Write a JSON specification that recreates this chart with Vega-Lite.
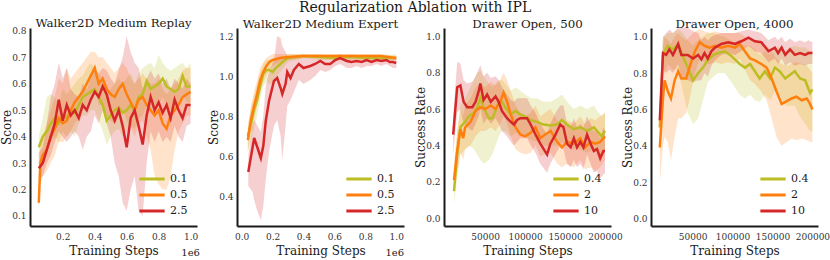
{
  "$schema": "https://vega.github.io/schema/vega-lite/v6.json",
  "padding": {"left": 0, "top": 1, "right": 0, "bottom": 0},
  "background": "white",
  "title": {"text": "Regularization Ablation with IPL", "font": "DejaVu Serif", "fontSize": 14, "fontWeight": "normal", "color": "#1a1a1a", "anchor": "middle", "offset": 3},
  "config": {
    "view": {"stroke": null},
    "axis": {"domainColor": "#1a1a1a", "domainWidth": 2, "ticks": false, "grid": false, "labelOverlap": false, "labelFont": "DejaVu Serif", "labelFontSize": 9, "labelColor": "#333333", "titleFont": "DejaVu Serif", "titleFontSize": 12, "titleFontWeight": "normal", "titleColor": "#1a1a1a"},
    "axisY": {"titlePadding": -2, "labelPadding": 4},
    "axisX": {"titlePadding": 4, "labelPadding": 6},
    "title": {"font": "DejaVu Serif", "fontSize": 11.8, "fontWeight": "normal", "color": "#1a1a1a", "offset": -3},
    "legend": {"orient": "bottom-right", "offset": 9, "padding": 0, "labelFont": "DejaVu Serif", "labelFontSize": 11, "labelColor": "#1a1a1a", "symbolType": "M-2,0H2", "symbolSize": 160, "symbolStrokeWidth": 3, "symbolOpacity": 1, "labelOffset": 10, "rowPadding": 2}
  },
  "datasets": {
    "p1": [
      {"s":"0.1","x":0.05,"m":0.36,"lo":0.28,"hi":0.40},{"s":"0.1","x":0.075,"m":0.40,"lo":0.30,"hi":0.47},{"s":"0.1","x":0.1,"m":0.42,"lo":0.35,"hi":0.55},{"s":"0.1","x":0.125,"m":0.45,"lo":0.38,"hi":0.56},{"s":"0.1","x":0.15,"m":0.47,"lo":0.40,"hi":0.55},{"s":"0.1","x":0.175,"m":0.45,"lo":0.38,"hi":0.52},{"s":"0.1","x":0.2,"m":0.48,"lo":0.42,"hi":0.58},{"s":"0.1","x":0.225,"m":0.47,"lo":0.40,"hi":0.56},{"s":"0.1","x":0.25,"m":0.50,"lo":0.42,"hi":0.58},{"s":"0.1","x":0.275,"m":0.49,"lo":0.40,"hi":0.60},{"s":"0.1","x":0.3,"m":0.52,"lo":0.45,"hi":0.62},{"s":"0.1","x":0.325,"m":0.55,"lo":0.48,"hi":0.63},{"s":"0.1","x":0.35,"m":0.56,"lo":0.48,"hi":0.66},{"s":"0.1","x":0.375,"m":0.57,"lo":0.50,"hi":0.68},{"s":"0.1","x":0.4,"m":0.58,"lo":0.50,"hi":0.66},{"s":"0.1","x":0.425,"m":0.55,"lo":0.46,"hi":0.64},{"s":"0.1","x":0.45,"m":0.52,"lo":0.42,"hi":0.62},{"s":"0.1","x":0.475,"m":0.46,"lo":0.37,"hi":0.56},{"s":"0.1","x":0.5,"m":0.48,"lo":0.40,"hi":0.58},{"s":"0.1","x":0.525,"m":0.50,"lo":0.42,"hi":0.60},{"s":"0.1","x":0.55,"m":0.51,"lo":0.43,"hi":0.62},{"s":"0.1","x":0.575,"m":0.49,"lo":0.40,"hi":0.60},{"s":"0.1","x":0.6,"m":0.50,"lo":0.42,"hi":0.62},{"s":"0.1","x":0.625,"m":0.52,"lo":0.44,"hi":0.64},{"s":"0.1","x":0.65,"m":0.50,"lo":0.43,"hi":0.60},{"s":"0.1","x":0.675,"m":0.55,"lo":0.47,"hi":0.64},{"s":"0.1","x":0.7,"m":0.56,"lo":0.48,"hi":0.66},{"s":"0.1","x":0.725,"m":0.61,"lo":0.52,"hi":0.67},{"s":"0.1","x":0.75,"m":0.58,"lo":0.50,"hi":0.68},{"s":"0.1","x":0.775,"m":0.59,"lo":0.52,"hi":0.66},{"s":"0.1","x":0.8,"m":0.60,"lo":0.52,"hi":0.71},{"s":"0.1","x":0.825,"m":0.62,"lo":0.55,"hi":0.68},{"s":"0.1","x":0.85,"m":0.59,"lo":0.52,"hi":0.66},{"s":"0.1","x":0.875,"m":0.58,"lo":0.50,"hi":0.65},{"s":"0.1","x":0.9,"m":0.57,"lo":0.50,"hi":0.66},{"s":"0.1","x":0.925,"m":0.58,"lo":0.52,"hi":0.67},{"s":"0.1","x":0.95,"m":0.63,"lo":0.56,"hi":0.68},{"s":"0.1","x":0.975,"m":0.59,"lo":0.53,"hi":0.66},{"s":"0.1","x":1.0,"m":0.59,"lo":0.53,"hi":0.68},
      {"s":"0.5","x":0.05,"m":0.15,"lo":0.12,"hi":0.20},{"s":"0.5","x":0.06,"m":0.30,"lo":0.22,"hi":0.36},{"s":"0.5","x":0.075,"m":0.33,"lo":0.25,"hi":0.40},{"s":"0.5","x":0.1,"m":0.35,"lo":0.27,"hi":0.45},{"s":"0.5","x":0.125,"m":0.40,"lo":0.30,"hi":0.50},{"s":"0.5","x":0.15,"m":0.43,"lo":0.33,"hi":0.55},{"s":"0.5","x":0.175,"m":0.47,"lo":0.38,"hi":0.62},{"s":"0.5","x":0.2,"m":0.45,"lo":0.38,"hi":0.60},{"s":"0.5","x":0.225,"m":0.46,"lo":0.40,"hi":0.66},{"s":"0.5","x":0.25,"m":0.50,"lo":0.42,"hi":0.62},{"s":"0.5","x":0.275,"m":0.53,"lo":0.45,"hi":0.64},{"s":"0.5","x":0.3,"m":0.55,"lo":0.47,"hi":0.66},{"s":"0.5","x":0.325,"m":0.57,"lo":0.50,"hi":0.68},{"s":"0.5","x":0.35,"m":0.60,"lo":0.52,"hi":0.70},{"s":"0.5","x":0.375,"m":0.63,"lo":0.55,"hi":0.72},{"s":"0.5","x":0.4,"m":0.66,"lo":0.58,"hi":0.72},{"s":"0.5","x":0.425,"m":0.60,"lo":0.52,"hi":0.70},{"s":"0.5","x":0.45,"m":0.62,"lo":0.52,"hi":0.70},{"s":"0.5","x":0.475,"m":0.58,"lo":0.48,"hi":0.68},{"s":"0.5","x":0.5,"m":0.56,"lo":0.46,"hi":0.66},{"s":"0.5","x":0.525,"m":0.55,"lo":0.45,"hi":0.64},{"s":"0.5","x":0.55,"m":0.58,"lo":0.48,"hi":0.66},{"s":"0.5","x":0.575,"m":0.60,"lo":0.50,"hi":0.68},{"s":"0.5","x":0.6,"m":0.56,"lo":0.46,"hi":0.66},{"s":"0.5","x":0.625,"m":0.53,"lo":0.44,"hi":0.62},{"s":"0.5","x":0.65,"m":0.50,"lo":0.40,"hi":0.60},{"s":"0.5","x":0.675,"m":0.54,"lo":0.45,"hi":0.62},{"s":"0.5","x":0.7,"m":0.55,"lo":0.46,"hi":0.64},{"s":"0.5","x":0.725,"m":0.52,"lo":0.40,"hi":0.62},{"s":"0.5","x":0.75,"m":0.50,"lo":0.35,"hi":0.60},{"s":"0.5","x":0.775,"m":0.48,"lo":0.25,"hi":0.60},{"s":"0.5","x":0.8,"m":0.50,"lo":0.22,"hi":0.62},{"s":"0.5","x":0.825,"m":0.45,"lo":0.20,"hi":0.58},{"s":"0.5","x":0.85,"m":0.43,"lo":0.20,"hi":0.56},{"s":"0.5","x":0.875,"m":0.48,"lo":0.25,"hi":0.58},{"s":"0.5","x":0.9,"m":0.50,"lo":0.35,"hi":0.60},{"s":"0.5","x":0.925,"m":0.52,"lo":0.42,"hi":0.62},{"s":"0.5","x":0.95,"m":0.55,"lo":0.45,"hi":0.65},{"s":"0.5","x":0.975,"m":0.56,"lo":0.48,"hi":0.66},{"s":"0.5","x":1.0,"m":0.57,"lo":0.48,"hi":0.66},
      {"s":"2.5","x":0.05,"m":0.28,"lo":0.24,"hi":0.34},{"s":"2.5","x":0.075,"m":0.30,"lo":0.25,"hi":0.36},{"s":"2.5","x":0.1,"m":0.35,"lo":0.30,"hi":0.45},{"s":"2.5","x":0.125,"m":0.40,"lo":0.33,"hi":0.55},{"s":"2.5","x":0.15,"m":0.45,"lo":0.38,"hi":0.60},{"s":"2.5","x":0.175,"m":0.54,"lo":0.42,"hi":0.68},{"s":"2.5","x":0.2,"m":0.46,"lo":0.40,"hi":0.62},{"s":"2.5","x":0.225,"m":0.52,"lo":0.38,"hi":0.66},{"s":"2.5","x":0.25,"m":0.48,"lo":0.40,"hi":0.58},{"s":"2.5","x":0.275,"m":0.50,"lo":0.42,"hi":0.56},{"s":"2.5","x":0.3,"m":0.47,"lo":0.40,"hi":0.55},{"s":"2.5","x":0.325,"m":0.52,"lo":0.35,"hi":0.60},{"s":"2.5","x":0.35,"m":0.50,"lo":0.40,"hi":0.58},{"s":"2.5","x":0.375,"m":0.54,"lo":0.42,"hi":0.62},{"s":"2.5","x":0.4,"m":0.57,"lo":0.48,"hi":0.65},{"s":"2.5","x":0.425,"m":0.55,"lo":0.45,"hi":0.64},{"s":"2.5","x":0.45,"m":0.59,"lo":0.50,"hi":0.66},{"s":"2.5","x":0.475,"m":0.56,"lo":0.45,"hi":0.65},{"s":"2.5","x":0.5,"m":0.50,"lo":0.40,"hi":0.62},{"s":"2.5","x":0.525,"m":0.46,"lo":0.30,"hi":0.60},{"s":"2.5","x":0.55,"m":0.50,"lo":0.25,"hi":0.65},{"s":"2.5","x":0.575,"m":0.44,"lo":0.15,"hi":0.70},{"s":"2.5","x":0.6,"m":0.36,"lo":0.12,"hi":0.78},{"s":"2.5","x":0.625,"m":0.47,"lo":0.20,"hi":0.72},{"s":"2.5","x":0.65,"m":0.50,"lo":0.25,"hi":0.68},{"s":"2.5","x":0.675,"m":0.44,"lo":0.12,"hi":0.66},{"s":"2.5","x":0.7,"m":0.37,"lo":0.10,"hi":0.58},{"s":"2.5","x":0.725,"m":0.48,"lo":0.30,"hi":0.62},{"s":"2.5","x":0.75,"m":0.55,"lo":0.42,"hi":0.65},{"s":"2.5","x":0.775,"m":0.50,"lo":0.38,"hi":0.62},{"s":"2.5","x":0.8,"m":0.53,"lo":0.42,"hi":0.64},{"s":"2.5","x":0.825,"m":0.49,"lo":0.38,"hi":0.60},{"s":"2.5","x":0.85,"m":0.52,"lo":0.40,"hi":0.62},{"s":"2.5","x":0.875,"m":0.47,"lo":0.38,"hi":0.58},{"s":"2.5","x":0.9,"m":0.54,"lo":0.44,"hi":0.62},{"s":"2.5","x":0.925,"m":0.50,"lo":0.40,"hi":0.60},{"s":"2.5","x":0.95,"m":0.47,"lo":0.38,"hi":0.58},{"s":"2.5","x":0.975,"m":0.52,"lo":0.44,"hi":0.62},{"s":"2.5","x":1.0,"m":0.52,"lo":0.45,"hi":0.60}
    ],
    "p2": [
      {"s":"0.1","x":0.04,"m":0.70,"lo":0.62,"hi":0.76},{"s":"0.1","x":0.06,"m":0.76,"lo":0.68,"hi":0.84},{"s":"0.1","x":0.08,"m":0.83,"lo":0.74,"hi":0.90},{"s":"0.1","x":0.1,"m":0.88,"lo":0.80,"hi":0.96},{"s":"0.1","x":0.12,"m":0.95,"lo":0.88,"hi":1.02},{"s":"0.1","x":0.14,"m":1.01,"lo":0.95,"hi":1.06},{"s":"0.1","x":0.16,"m":1.03,"lo":0.97,"hi":1.08},{"s":"0.1","x":0.18,"m":1.03,"lo":0.96,"hi":1.08},{"s":"0.1","x":0.2,"m":1.02,"lo":0.96,"hi":1.08},{"s":"0.1","x":0.22,"m":1.04,"lo":0.99,"hi":1.09},{"s":"0.1","x":0.25,"m":1.06,"lo":1.02,"hi":1.10},{"s":"0.1","x":0.28,"m":1.08,"lo":1.05,"hi":1.10},{"s":"0.1","x":0.3,"m":1.09,"lo":1.07,"hi":1.11},{"s":"0.1","x":0.35,"m":1.095,"lo":1.08,"hi":1.11},{"s":"0.1","x":0.4,"m":1.10,"lo":1.09,"hi":1.11},{"s":"0.1","x":0.5,"m":1.095,"lo":1.08,"hi":1.11},{"s":"0.1","x":0.6,"m":1.09,"lo":1.08,"hi":1.10},{"s":"0.1","x":0.7,"m":1.095,"lo":1.08,"hi":1.11},{"s":"0.1","x":0.8,"m":1.09,"lo":1.08,"hi":1.10},{"s":"0.1","x":0.9,"m":1.09,"lo":1.08,"hi":1.10},{"s":"0.1","x":1.0,"m":1.09,"lo":1.08,"hi":1.11},
      {"s":"0.5","x":0.04,"m":0.68,"lo":0.62,"hi":0.74},{"s":"0.5","x":0.06,"m":0.78,"lo":0.70,"hi":0.85},{"s":"0.5","x":0.08,"m":0.85,"lo":0.78,"hi":0.92},{"s":"0.5","x":0.1,"m":0.91,"lo":0.85,"hi":0.98},{"s":"0.5","x":0.12,"m":0.98,"lo":0.92,"hi":1.04},{"s":"0.5","x":0.14,"m":1.02,"lo":0.97,"hi":1.07},{"s":"0.5","x":0.16,"m":1.05,"lo":1.00,"hi":1.09},{"s":"0.5","x":0.18,"m":1.07,"lo":1.03,"hi":1.10},{"s":"0.5","x":0.2,"m":1.08,"lo":1.05,"hi":1.11},{"s":"0.5","x":0.25,"m":1.09,"lo":1.07,"hi":1.11},{"s":"0.5","x":0.3,"m":1.095,"lo":1.08,"hi":1.11},{"s":"0.5","x":0.4,"m":1.10,"lo":1.09,"hi":1.11},{"s":"0.5","x":0.5,"m":1.10,"lo":1.09,"hi":1.11},{"s":"0.5","x":0.6,"m":1.10,"lo":1.09,"hi":1.11},{"s":"0.5","x":0.7,"m":1.10,"lo":1.09,"hi":1.11},{"s":"0.5","x":0.8,"m":1.10,"lo":1.09,"hi":1.11},{"s":"0.5","x":0.9,"m":1.10,"lo":1.09,"hi":1.11},{"s":"0.5","x":1.0,"m":1.09,"lo":1.08,"hi":1.10},
      {"s":"2.5","x":0.043,"m":0.52,"lo":0.45,"hi":0.60},{"s":"2.5","x":0.07,"m":0.64,"lo":0.42,"hi":0.75},{"s":"2.5","x":0.081,"m":0.69,"lo":0.38,"hi":0.78},{"s":"2.5","x":0.103,"m":0.64,"lo":0.32,"hi":0.75},{"s":"2.5","x":0.124,"m":0.59,"lo":0.28,"hi":0.72},{"s":"2.5","x":0.14,"m":0.65,"lo":0.35,"hi":0.80},{"s":"2.5","x":0.156,"m":0.775,"lo":0.48,"hi":0.95},{"s":"2.5","x":0.177,"m":0.875,"lo":0.62,"hi":1.02},{"s":"2.5","x":0.209,"m":0.975,"lo":0.75,"hi":1.08},{"s":"2.5","x":0.23,"m":0.99,"lo":0.78,"hi":1.20},{"s":"2.5","x":0.252,"m":0.94,"lo":0.70,"hi":1.19},{"s":"2.5","x":0.263,"m":0.91,"lo":0.58,"hi":1.15},{"s":"2.5","x":0.284,"m":0.96,"lo":0.75,"hi":1.12},{"s":"2.5","x":0.295,"m":1.02,"lo":0.85,"hi":1.10},{"s":"2.5","x":0.316,"m":0.99,"lo":0.88,"hi":1.10},{"s":"2.5","x":0.338,"m":1.03,"lo":0.92,"hi":1.10},{"s":"2.5","x":0.37,"m":1.06,"lo":0.98,"hi":1.10},{"s":"2.5","x":0.4,"m":1.04,"lo":0.96,"hi":1.10},{"s":"2.5","x":0.444,"m":1.05,"lo":0.98,"hi":1.10},{"s":"2.5","x":0.475,"m":1.06,"lo":1.00,"hi":1.10},{"s":"2.5","x":0.509,"m":1.075,"lo":1.03,"hi":1.10},{"s":"2.5","x":0.54,"m":1.06,"lo":1.02,"hi":1.10},{"s":"2.5","x":0.573,"m":1.06,"lo":1.03,"hi":1.09},{"s":"2.5","x":0.605,"m":1.08,"lo":1.05,"hi":1.10},{"s":"2.5","x":0.637,"m":1.09,"lo":1.06,"hi":1.11},{"s":"2.5","x":0.68,"m":1.075,"lo":1.04,"hi":1.10},{"s":"2.5","x":0.71,"m":1.07,"lo":1.04,"hi":1.10},{"s":"2.5","x":0.744,"m":1.075,"lo":1.05,"hi":1.10},{"s":"2.5","x":0.776,"m":1.07,"lo":1.04,"hi":1.10},{"s":"2.5","x":0.808,"m":1.08,"lo":1.05,"hi":1.10},{"s":"2.5","x":0.84,"m":1.07,"lo":1.05,"hi":1.09},{"s":"2.5","x":0.872,"m":1.08,"lo":1.06,"hi":1.10},{"s":"2.5","x":0.904,"m":1.075,"lo":1.05,"hi":1.10},{"s":"2.5","x":0.936,"m":1.08,"lo":1.06,"hi":1.10},{"s":"2.5","x":0.958,"m":1.07,"lo":1.05,"hi":1.09},{"s":"2.5","x":0.979,"m":1.07,"lo":1.04,"hi":1.09},{"s":"2.5","x":1.0,"m":1.065,"lo":1.04,"hi":1.09}
    ],
    "p3": [
      {"s":"0.4","x":11000,"m":0.15,"lo":0.08,"hi":0.22},{"s":"0.4","x":15000,"m":0.35,"lo":0.22,"hi":0.48},{"s":"0.4","x":19000,"m":0.50,"lo":0.35,"hi":0.62},{"s":"0.4","x":25000,"m":0.53,"lo":0.38,"hi":0.66},{"s":"0.4","x":29500,"m":0.56,"lo":0.40,"hi":0.70},{"s":"0.4","x":36000,"m":0.58,"lo":0.38,"hi":0.76},{"s":"0.4","x":40000,"m":0.61,"lo":0.35,"hi":0.80},{"s":"0.4","x":44000,"m":0.66,"lo":0.32,"hi":0.81},{"s":"0.4","x":48000,"m":0.61,"lo":0.30,"hi":0.78},{"s":"0.4","x":54500,"m":0.55,"lo":0.32,"hi":0.74},{"s":"0.4","x":59000,"m":0.55,"lo":0.35,"hi":0.72},{"s":"0.4","x":63000,"m":0.59,"lo":0.40,"hi":0.74},{"s":"0.4","x":67000,"m":0.64,"lo":0.45,"hi":0.76},{"s":"0.4","x":71000,"m":0.64,"lo":0.48,"hi":0.76},{"s":"0.4","x":75000,"m":0.61,"lo":0.48,"hi":0.74},{"s":"0.4","x":82000,"m":0.57,"lo":0.45,"hi":0.70},{"s":"0.4","x":88000,"m":0.59,"lo":0.47,"hi":0.72},{"s":"0.4","x":94000,"m":0.57,"lo":0.46,"hi":0.70},{"s":"0.4","x":100000,"m":0.56,"lo":0.45,"hi":0.68},{"s":"0.4","x":107000,"m":0.54,"lo":0.43,"hi":0.66},{"s":"0.4","x":115000,"m":0.53,"lo":0.42,"hi":0.66},{"s":"0.4","x":123000,"m":0.515,"lo":0.40,"hi":0.64},{"s":"0.4","x":132000,"m":0.51,"lo":0.40,"hi":0.64},{"s":"0.4","x":140000,"m":0.515,"lo":0.40,"hi":0.66},{"s":"0.4","x":146000,"m":0.54,"lo":0.42,"hi":0.68},{"s":"0.4","x":152500,"m":0.515,"lo":0.40,"hi":0.64},{"s":"0.4","x":161000,"m":0.49,"lo":0.38,"hi":0.60},{"s":"0.4","x":169000,"m":0.50,"lo":0.38,"hi":0.62},{"s":"0.4","x":177500,"m":0.48,"lo":0.36,"hi":0.60},{"s":"0.4","x":186000,"m":0.50,"lo":0.38,"hi":0.62},{"s":"0.4","x":192000,"m":0.47,"lo":0.36,"hi":0.58},{"s":"0.4","x":196000,"m":0.45,"lo":0.34,"hi":0.56},{"s":"0.4","x":200000,"m":0.48,"lo":0.36,"hi":0.58},
      {"s":"2","x":11000,"m":0.21,"lo":0.15,"hi":0.30},{"s":"2","x":15000,"m":0.37,"lo":0.25,"hi":0.48},{"s":"2","x":19000,"m":0.49,"lo":0.36,"hi":0.60},{"s":"2","x":22500,"m":0.44,"lo":0.32,"hi":0.56},{"s":"2","x":25000,"m":0.50,"lo":0.38,"hi":0.62},{"s":"2","x":31700,"m":0.53,"lo":0.40,"hi":0.66},{"s":"2","x":38000,"m":0.59,"lo":0.45,"hi":0.72},{"s":"2","x":44000,"m":0.61,"lo":0.48,"hi":0.74},{"s":"2","x":50000,"m":0.60,"lo":0.48,"hi":0.72},{"s":"2","x":57000,"m":0.62,"lo":0.50,"hi":0.75},{"s":"2","x":63000,"m":0.60,"lo":0.48,"hi":0.73},{"s":"2","x":69000,"m":0.64,"lo":0.52,"hi":0.76},{"s":"2","x":73000,"m":0.69,"lo":0.56,"hi":0.80},{"s":"2","x":77500,"m":0.64,"lo":0.52,"hi":0.76},{"s":"2","x":82000,"m":0.57,"lo":0.45,"hi":0.70},{"s":"2","x":88000,"m":0.50,"lo":0.38,"hi":0.62},{"s":"2","x":94000,"m":0.46,"lo":0.36,"hi":0.58},{"s":"2","x":100000,"m":0.45,"lo":0.35,"hi":0.56},{"s":"2","x":107000,"m":0.47,"lo":0.36,"hi":0.58},{"s":"2","x":113000,"m":0.50,"lo":0.40,"hi":0.62},{"s":"2","x":119000,"m":0.44,"lo":0.34,"hi":0.56},{"s":"2","x":125000,"m":0.46,"lo":0.35,"hi":0.58},{"s":"2","x":132000,"m":0.48,"lo":0.36,"hi":0.60},{"s":"2","x":140000,"m":0.42,"lo":0.30,"hi":0.54},{"s":"2","x":146000,"m":0.39,"lo":0.28,"hi":0.50},{"s":"2","x":152500,"m":0.42,"lo":0.30,"hi":0.54},{"s":"2","x":161000,"m":0.41,"lo":0.28,"hi":0.52},{"s":"2","x":169000,"m":0.44,"lo":0.32,"hi":0.56},{"s":"2","x":175000,"m":0.39,"lo":0.27,"hi":0.52},{"s":"2","x":182000,"m":0.42,"lo":0.28,"hi":0.55},{"s":"2","x":188000,"m":0.41,"lo":0.26,"hi":0.54},{"s":"2","x":194000,"m":0.42,"lo":0.28,"hi":0.56},{"s":"2","x":200000,"m":0.45,"lo":0.32,"hi":0.58},
      {"s":"10","x":10000,"m":0.46,"lo":0.35,"hi":0.56},{"s":"10","x":15000,"m":0.72,"lo":0.58,"hi":0.86},{"s":"10","x":19000,"m":0.73,"lo":0.60,"hi":0.85},{"s":"10","x":23000,"m":0.64,"lo":0.52,"hi":0.76},{"s":"10","x":27500,"m":0.61,"lo":0.50,"hi":0.74},{"s":"10","x":34000,"m":0.61,"lo":0.48,"hi":0.75},{"s":"10","x":38000,"m":0.64,"lo":0.52,"hi":0.78},{"s":"10","x":42000,"m":0.70,"lo":0.56,"hi":0.82},{"s":"10","x":44000,"m":0.74,"lo":0.60,"hi":0.84},{"s":"10","x":48000,"m":0.65,"lo":0.52,"hi":0.78},{"s":"10","x":52500,"m":0.68,"lo":0.55,"hi":0.80},{"s":"10","x":57000,"m":0.64,"lo":0.52,"hi":0.77},{"s":"10","x":63000,"m":0.67,"lo":0.55,"hi":0.78},{"s":"10","x":67000,"m":0.64,"lo":0.52,"hi":0.76},{"s":"10","x":71000,"m":0.59,"lo":0.48,"hi":0.72},{"s":"10","x":77500,"m":0.55,"lo":0.45,"hi":0.68},{"s":"10","x":82000,"m":0.53,"lo":0.42,"hi":0.65},{"s":"10","x":86000,"m":0.515,"lo":0.40,"hi":0.64},{"s":"10","x":90000,"m":0.54,"lo":0.42,"hi":0.66},{"s":"10","x":94000,"m":0.55,"lo":0.44,"hi":0.66},{"s":"10","x":102500,"m":0.55,"lo":0.44,"hi":0.66},{"s":"10","x":107000,"m":0.515,"lo":0.40,"hi":0.62},{"s":"10","x":113000,"m":0.46,"lo":0.36,"hi":0.58},{"s":"10","x":119000,"m":0.41,"lo":0.30,"hi":0.52},{"s":"10","x":127500,"m":0.35,"lo":0.25,"hi":0.46},{"s":"10","x":131600,"m":0.41,"lo":0.30,"hi":0.52},{"s":"10","x":138000,"m":0.46,"lo":0.35,"hi":0.58},{"s":"10","x":144000,"m":0.515,"lo":0.40,"hi":0.62},{"s":"10","x":148000,"m":0.50,"lo":0.38,"hi":0.62},{"s":"10","x":152500,"m":0.41,"lo":0.30,"hi":0.52},{"s":"10","x":157000,"m":0.39,"lo":0.28,"hi":0.50},{"s":"10","x":161000,"m":0.44,"lo":0.32,"hi":0.55},{"s":"10","x":165000,"m":0.39,"lo":0.28,"hi":0.50},{"s":"10","x":169000,"m":0.42,"lo":0.30,"hi":0.52},{"s":"10","x":173000,"m":0.39,"lo":0.27,"hi":0.50},{"s":"10","x":177500,"m":0.46,"lo":0.35,"hi":0.56},{"s":"10","x":182000,"m":0.41,"lo":0.30,"hi":0.52},{"s":"10","x":186000,"m":0.37,"lo":0.25,"hi":0.48},{"s":"10","x":190000,"m":0.38,"lo":0.26,"hi":0.48},{"s":"10","x":194000,"m":0.33,"lo":0.22,"hi":0.44},{"s":"10","x":198000,"m":0.37,"lo":0.24,"hi":0.50},{"s":"10","x":200000,"m":0.37,"lo":0.25,"hi":0.48}
    ],
    "p4": [
      {"s":"0.4","x":9000,"m":0.50,"lo":0.44,"hi":0.56},{"s":"0.4","x":13000,"m":0.90,"lo":0.75,"hi":1.00},{"s":"0.4","x":15000,"m":0.92,"lo":0.80,"hi":1.00},{"s":"0.4","x":19000,"m":0.95,"lo":0.85,"hi":1.02},{"s":"0.4","x":25500,"m":0.93,"lo":0.82,"hi":1.02},{"s":"0.4","x":32000,"m":0.96,"lo":0.82,"hi":1.04},{"s":"0.4","x":38000,"m":0.89,"lo":0.70,"hi":1.02},{"s":"0.4","x":44000,"m":0.83,"lo":0.58,"hi":0.98},{"s":"0.4","x":50600,"m":0.76,"lo":0.52,"hi":0.95},{"s":"0.4","x":57000,"m":0.80,"lo":0.55,"hi":0.98},{"s":"0.4","x":63000,"m":0.83,"lo":0.65,"hi":1.00},{"s":"0.4","x":69000,"m":0.87,"lo":0.75,"hi":1.02},{"s":"0.4","x":76000,"m":0.90,"lo":0.78,"hi":1.02},{"s":"0.4","x":82000,"m":0.91,"lo":0.80,"hi":1.01},{"s":"0.4","x":90000,"m":0.92,"lo":0.80,"hi":1.00},{"s":"0.4","x":97000,"m":0.90,"lo":0.76,"hi":0.98},{"s":"0.4","x":103000,"m":0.875,"lo":0.72,"hi":0.97},{"s":"0.4","x":109000,"m":0.85,"lo":0.68,"hi":0.96},{"s":"0.4","x":115500,"m":0.83,"lo":0.66,"hi":0.95},{"s":"0.4","x":122000,"m":0.85,"lo":0.68,"hi":0.95},{"s":"0.4","x":128000,"m":0.81,"lo":0.65,"hi":0.93},{"s":"0.4","x":134000,"m":0.77,"lo":0.64,"hi":0.90},{"s":"0.4","x":140600,"m":0.81,"lo":0.68,"hi":0.92},{"s":"0.4","x":147000,"m":0.77,"lo":0.65,"hi":0.90},{"s":"0.4","x":153000,"m":0.83,"lo":0.70,"hi":0.94},{"s":"0.4","x":159000,"m":0.81,"lo":0.68,"hi":0.94},{"s":"0.4","x":166000,"m":0.77,"lo":0.62,"hi":0.92},{"s":"0.4","x":172000,"m":0.79,"lo":0.62,"hi":0.94},{"s":"0.4","x":178000,"m":0.81,"lo":0.62,"hi":0.95},{"s":"0.4","x":184500,"m":0.77,"lo":0.56,"hi":0.94},{"s":"0.4","x":191000,"m":0.76,"lo":0.52,"hi":0.94},{"s":"0.4","x":197000,"m":0.69,"lo":0.48,"hi":0.92},{"s":"0.4","x":200000,"m":0.71,"lo":0.48,"hi":0.92},
      {"s":"2","x":9000,"m":0.39,"lo":0.20,"hi":0.50},{"s":"2","x":13000,"m":0.66,"lo":0.40,"hi":0.95},{"s":"2","x":15000,"m":0.76,"lo":0.45,"hi":1.00},{"s":"2","x":19000,"m":0.70,"lo":0.42,"hi":0.98},{"s":"2","x":23000,"m":0.66,"lo":0.32,"hi":0.96},{"s":"2","x":27600,"m":0.76,"lo":0.45,"hi":1.00},{"s":"2","x":32000,"m":0.81,"lo":0.55,"hi":1.02},{"s":"2","x":36000,"m":0.77,"lo":0.55,"hi":1.00},{"s":"2","x":42000,"m":0.77,"lo":0.58,"hi":0.98},{"s":"2","x":46000,"m":0.83,"lo":0.65,"hi":1.00},{"s":"2","x":53000,"m":0.92,"lo":0.80,"hi":1.03},{"s":"2","x":59000,"m":0.97,"lo":0.88,"hi":1.04},{"s":"2","x":65000,"m":0.95,"lo":0.86,"hi":1.03},{"s":"2","x":71500,"m":0.94,"lo":0.85,"hi":1.02},{"s":"2","x":78000,"m":0.95,"lo":0.86,"hi":1.03},{"s":"2","x":86000,"m":0.94,"lo":0.85,"hi":1.02},{"s":"2","x":94600,"m":0.95,"lo":0.86,"hi":1.02},{"s":"2","x":103000,"m":0.94,"lo":0.85,"hi":1.02},{"s":"2","x":109000,"m":0.96,"lo":0.88,"hi":1.02},{"s":"2","x":115500,"m":0.92,"lo":0.82,"hi":1.00},{"s":"2","x":122000,"m":0.88,"lo":0.76,"hi":0.98},{"s":"2","x":128000,"m":0.87,"lo":0.74,"hi":0.98},{"s":"2","x":136000,"m":0.85,"lo":0.70,"hi":0.96},{"s":"2","x":142700,"m":0.83,"lo":0.65,"hi":0.95},{"s":"2","x":149000,"m":0.77,"lo":0.55,"hi":0.92},{"s":"2","x":155000,"m":0.70,"lo":0.45,"hi":0.88},{"s":"2","x":161500,"m":0.63,"lo":0.40,"hi":0.85},{"s":"2","x":168000,"m":0.645,"lo":0.42,"hi":0.84},{"s":"2","x":174000,"m":0.66,"lo":0.44,"hi":0.85},{"s":"2","x":180000,"m":0.67,"lo":0.43,"hi":0.86},{"s":"2","x":186600,"m":0.65,"lo":0.44,"hi":0.85},{"s":"2","x":193000,"m":0.66,"lo":0.43,"hi":0.84},{"s":"2","x":197000,"m":0.63,"lo":0.42,"hi":0.82},{"s":"2","x":200000,"m":0.60,"lo":0.42,"hi":0.80},
      {"s":"10","x":9000,"m":0.54,"lo":0.50,"hi":0.58},{"s":"10","x":13000,"m":0.91,"lo":0.82,"hi":1.00},{"s":"10","x":17000,"m":0.90,"lo":0.80,"hi":1.02},{"s":"10","x":21000,"m":0.93,"lo":0.82,"hi":1.04},{"s":"10","x":25500,"m":0.90,"lo":0.80,"hi":1.02},{"s":"10","x":32000,"m":0.96,"lo":0.85,"hi":1.05},{"s":"10","x":36000,"m":0.90,"lo":0.78,"hi":1.05},{"s":"10","x":44000,"m":0.90,"lo":0.76,"hi":1.05},{"s":"10","x":50600,"m":0.88,"lo":0.75,"hi":1.03},{"s":"10","x":57000,"m":0.90,"lo":0.76,"hi":1.02},{"s":"10","x":61000,"m":0.875,"lo":0.76,"hi":0.98},{"s":"10","x":65000,"m":0.91,"lo":0.80,"hi":1.00},{"s":"10","x":69000,"m":0.88,"lo":0.78,"hi":0.98},{"s":"10","x":73600,"m":0.92,"lo":0.84,"hi":1.00},{"s":"10","x":78000,"m":0.94,"lo":0.87,"hi":1.01},{"s":"10","x":86000,"m":0.96,"lo":0.90,"hi":1.02},{"s":"10","x":94600,"m":0.97,"lo":0.91,"hi":1.02},{"s":"10","x":103000,"m":0.96,"lo":0.90,"hi":1.02},{"s":"10","x":111000,"m":0.975,"lo":0.92,"hi":1.03},{"s":"10","x":120000,"m":0.995,"lo":0.95,"hi":1.04},{"s":"10","x":128000,"m":0.975,"lo":0.92,"hi":1.03},{"s":"10","x":136000,"m":0.97,"lo":0.91,"hi":1.02},{"s":"10","x":145000,"m":0.92,"lo":0.86,"hi":0.98},{"s":"10","x":153000,"m":0.94,"lo":0.88,"hi":1.00},{"s":"10","x":157000,"m":0.91,"lo":0.85,"hi":0.98},{"s":"10","x":161500,"m":0.94,"lo":0.88,"hi":1.00},{"s":"10","x":166000,"m":0.90,"lo":0.84,"hi":0.97},{"s":"10","x":172000,"m":0.93,"lo":0.86,"hi":0.99},{"s":"10","x":178000,"m":0.90,"lo":0.84,"hi":0.97},{"s":"10","x":184500,"m":0.91,"lo":0.85,"hi":0.98},{"s":"10","x":191000,"m":0.90,"lo":0.84,"hi":0.97},{"s":"10","x":195000,"m":0.91,"lo":0.85,"hi":0.98},{"s":"10","x":200000,"m":0.91,"lo":0.85,"hi":0.97}
    ]
  },
  "spacing": 40,
  "bounds": "flush",
  "hconcat": [
    {
      "width": 167, "height": 198,
      "title": "Walker2D Medium Replay",
      "layer": [
        {"data": {"name": "p1"}, "mark": {"type": "area", "fillOpacity": 0.22}, "encoding": {
          "x": {"field": "x", "type": "quantitative", "scale": {"domain": [-0.005, 1.04], "nice": false, "zero": false}, "axis": {"title": "Training Steps", "values": [0.2, 0.4, 0.6, 0.8, 1.0], "format": ".1f", "labelOverlap": false, "tickCount": 20}},
          "y": {"field": "lo", "type": "quantitative", "scale": {"domain": [0.062, 0.811], "nice": false, "zero": false}, "axis": {"title": "Score", "values": [0.1, 0.2, 0.3, 0.4, 0.5, 0.6, 0.7, 0.8], "format": ".1f", "labelOverlap": false, "tickCount": 20}},
          "y2": {"field": "hi"},
          "color": {"field": "s", "type": "nominal", "scale": {"domain": ["0.1", "0.5", "2.5"], "range": ["#bcbd22", "#ff7f0e", "#d62728"]}, "legend": {"title": null}}}},
        {"data": {"name": "p1"}, "mark": {"type": "line", "strokeWidth": 2.5}, "encoding": {
          "x": {"field": "x", "type": "quantitative"},
          "y": {"field": "m", "type": "quantitative"},
          "color": {"field": "s", "type": "nominal", "scale": {"domain": ["0.1", "0.5", "2.5"], "range": ["#bcbd22", "#ff7f0e", "#d62728"]}, "legend": {"title": null}}}},
        {"data": {"values": [{"t": "1e6", "px": 1.0, "py": -0.05}]}, "mark": {"type": "text", "font": "DejaVu Serif", "fontSize": 10, "color": "#1a1a1a", "align": "center", "baseline": "alphabetic"}, "encoding": {
          "x": {"field": "px", "type": "quantitative"}, "y": {"field": "py", "type": "quantitative"}, "text": {"field": "t"}}}
      ]
    },
    {
      "width": 167, "height": 198,
      "title": "Walker2D Medium Expert",
      "layer": [
        {"data": {"name": "p2"}, "mark": {"type": "area", "fillOpacity": 0.22}, "encoding": {
          "x": {"field": "x", "type": "quantitative", "scale": {"domain": [-0.03, 1.05], "nice": false, "zero": false}, "axis": {"title": "Training Steps", "values": [0, 0.2, 0.4, 0.6, 0.8, 1.0], "format": ".1f", "labelOverlap": false, "tickCount": 20}},
          "y": {"field": "lo", "type": "quantitative", "scale": {"domain": [0.25, 1.24], "nice": false, "zero": false}, "axis": {"title": "Score", "values": [0.4, 0.6, 0.8, 1.0, 1.2], "format": ".1f", "labelOverlap": false, "tickCount": 20}},
          "y2": {"field": "hi"},
          "color": {"field": "s", "type": "nominal", "scale": {"domain": ["0.1", "0.5", "2.5"], "range": ["#bcbd22", "#ff7f0e", "#d62728"]}, "legend": {"title": null}}}},
        {"data": {"name": "p2"}, "mark": {"type": "line", "strokeWidth": 2.5}, "encoding": {
          "x": {"field": "x", "type": "quantitative"},
          "y": {"field": "m", "type": "quantitative"},
          "color": {"field": "s", "type": "nominal", "scale": {"domain": ["0.1", "0.5", "2.5"], "range": ["#bcbd22", "#ff7f0e", "#d62728"]}, "legend": {"title": null}}}},
        {"data": {"values": [{"t": "1e6", "px": 0.99, "py": 0.10}]}, "mark": {"type": "text", "font": "DejaVu Serif", "fontSize": 10, "color": "#1a1a1a", "align": "center", "baseline": "alphabetic"}, "encoding": {
          "x": {"field": "px", "type": "quantitative"}, "y": {"field": "py", "type": "quantitative"}, "text": {"field": "t"}}}
      ]
    },
    {
      "width": 167, "height": 198,
      "title": "Drawer Open, 500",
      "layer": [
        {"data": {"name": "p3"}, "mark": {"type": "area", "fillOpacity": 0.22}, "encoding": {
          "x": {"field": "x", "type": "quantitative", "scale": {"domain": [-1500, 207500], "nice": false, "zero": false}, "axis": {"title": "Training Steps", "values": [50000, 100000, 150000, 200000], "format": "d", "labelOverlap": false, "tickCount": 20}},
          "y": {"field": "lo", "type": "quantitative", "scale": {"domain": [-0.042, 1.045], "nice": false, "zero": false}, "axis": {"title": "Success Rate", "values": [0, 0.2, 0.4, 0.6, 0.8, 1.0], "format": ".1f", "labelOverlap": false, "tickCount": 20}},
          "y2": {"field": "hi"},
          "color": {"field": "s", "type": "nominal", "scale": {"domain": ["0.4", "2", "10"], "range": ["#bcbd22", "#ff7f0e", "#d62728"]}, "legend": {"title": null}}}},
        {"data": {"name": "p3"}, "mark": {"type": "line", "strokeWidth": 2.5}, "encoding": {
          "x": {"field": "x", "type": "quantitative"},
          "y": {"field": "m", "type": "quantitative"},
          "color": {"field": "s", "type": "nominal", "scale": {"domain": ["0.4", "2", "10"], "range": ["#bcbd22", "#ff7f0e", "#d62728"]}, "legend": {"title": null}}}}
      ]
    },
    {
      "width": 167, "height": 198,
      "title": "Drawer Open, 4000",
      "layer": [
        {"data": {"name": "p4"}, "mark": {"type": "area", "fillOpacity": 0.22}, "encoding": {
          "x": {"field": "x", "type": "quantitative", "scale": {"domain": [-2000, 207000], "nice": false, "zero": false}, "axis": {"title": "Training Steps", "values": [50000, 100000, 150000, 200000], "format": "d", "labelOverlap": false, "tickCount": 20}},
          "y": {"field": "lo", "type": "quantitative", "scale": {"domain": [-0.042, 1.048], "nice": false, "zero": false}, "axis": {"title": "Success Rate", "values": [0, 0.2, 0.4, 0.6, 0.8, 1.0], "format": ".1f", "labelOverlap": false, "tickCount": 20}},
          "y2": {"field": "hi"},
          "color": {"field": "s", "type": "nominal", "scale": {"domain": ["0.4", "2", "10"], "range": ["#bcbd22", "#ff7f0e", "#d62728"]}, "legend": {"title": null}}}},
        {"data": {"name": "p4"}, "mark": {"type": "line", "strokeWidth": 2.5}, "encoding": {
          "x": {"field": "x", "type": "quantitative"},
          "y": {"field": "m", "type": "quantitative"},
          "color": {"field": "s", "type": "nominal", "scale": {"domain": ["0.4", "2", "10"], "range": ["#bcbd22", "#ff7f0e", "#d62728"]}, "legend": {"title": null}}}}
      ]
    }
  ],
  "resolve": {"scale": {"color": "independent"}, "legend": {"color": "independent"}}
}
